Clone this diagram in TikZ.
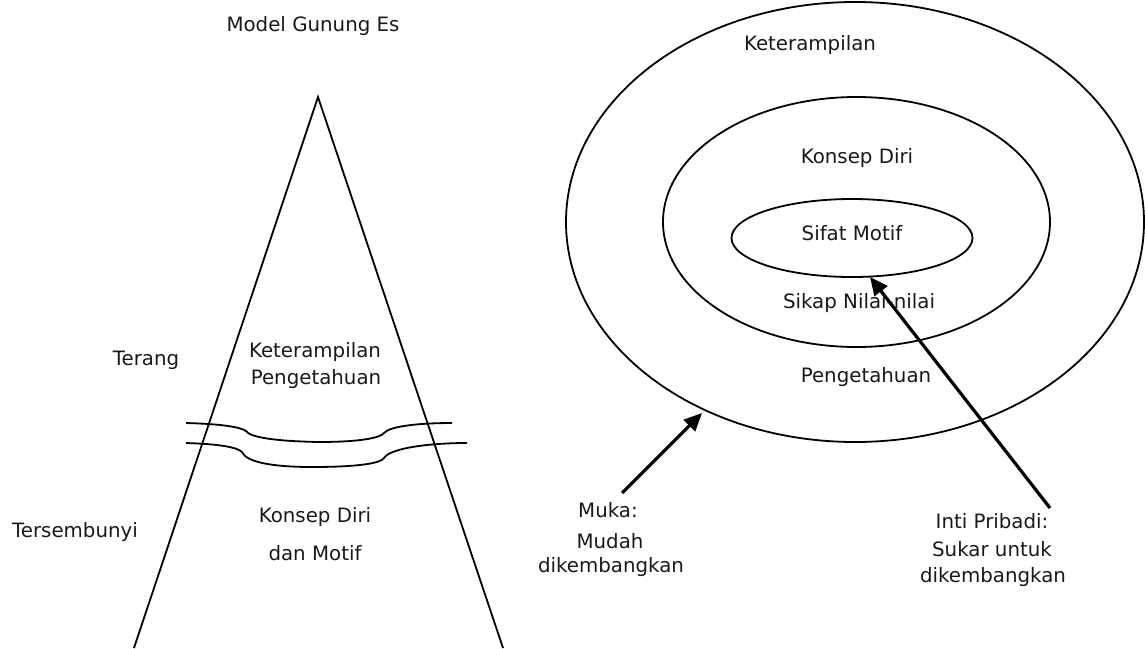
\documentclass[tikz,border=0pt]{standalone}
\usepackage{fontspec}
\setmainfont{DejaVu Sans}
\usetikzlibrary{arrows.meta,shapes.geometric}
\begin{document}
\begin{tikzpicture}[x=1pt,y=-1pt,
  lbl/.style={font=\fontsize{19.8}{23}\selectfont, inner sep=0pt, text=black!90, align=center},
  thinline/.style={line width=1.8pt, black},
  ring/.style={draw, thinline, ellipse, inner sep=0pt},
  bigarrow/.style={line width=3.2pt, -{Triangle[length=18pt,width=16pt]}}]
\useasboundingbox (0,0) rectangle (1145,648);
% iceberg
\coordinate (bl) at (134,648);
\coordinate (apex) at (318,97);
\coordinate (br) at (503,648);
\draw[thinline] (bl) -- (apex) -- (br);
\node[lbl] (title) at (313,26) {Model Gunung Es};
\node[lbl] (terang) at (146,360) {Terang};
\node[lbl] (tersembunyi) at (75,532) {Tersembunyi};
\node[lbl] (keterL) at (315,352) {Keterampilan};
\node[lbl] (pengL) at (316,379) {Pengetahuan};
\node[lbl] (konsepL) at (315,517) {Konsep Diri};
\node[lbl] (motifL) at (315,553) {dan Motif};
% water lines
\draw[thinline] (186,423) .. controls (222,424) and (240,427) .. (246,431)
  .. controls (250,437) and (272,441) .. (318,442)
  .. controls (360,442) and (380,438) .. (384,433)
  .. controls (390,426) and (420,423) .. (452,423);
\draw[thinline] (186,443) .. controls (218,444) and (237,447) .. (242,452)
  .. controls (246,462) and (272,467) .. (312,467)
  .. controls (360,467) and (381,463) .. (384,458)
  .. controls (390,448) and (430,443) .. (467,443);
% rings
\node[ring, minimum width=578pt, minimum height=440pt] (outer) at (855,222) {};
\node[ring, minimum width=387pt, minimum height=250pt] (middle) at (856.5,222) {};
\node[ring, minimum width=241pt, minimum height=78pt] (sifat) at (852,238) {};
\node[lbl] (sifatT) at (852,233) {Sifat Motif};
\node[lbl] (keterR) at (810,45) {Keterampilan};
\node[lbl] (konsepR) at (857,158) {Konsep Diri};
\node[lbl] (sikap) at (859,303) {Sikap Nilai-nilai};
\node[lbl] (pengR) at (866,377) {Pengetahuan};
% labels below
\node[lbl] (muka) at (608,510) {Muka:};
\node[lbl] (mudah) at (610,541) {Mudah};
\node[lbl] (dikemL) at (611,567) {dikembangkan};
\node[lbl] (inti) at (992,521) {Inti Pribadi:};
\node[lbl] (sukar) at (992,549) {Sukar untuk};
\node[lbl] (dikemR) at (993,577) {dikembangkan};
% arrows
\coordinate (mukaTail) at (622,493);
\coordinate (mukaTip) at (702,413);
\coordinate (intiTail) at (1050,508);
\coordinate (intiTip) at (870,277);
\draw[bigarrow] (mukaTail) -- (mukaTip);
\draw[bigarrow] (intiTail) -- (intiTip);
\end{tikzpicture}
\end{document}
